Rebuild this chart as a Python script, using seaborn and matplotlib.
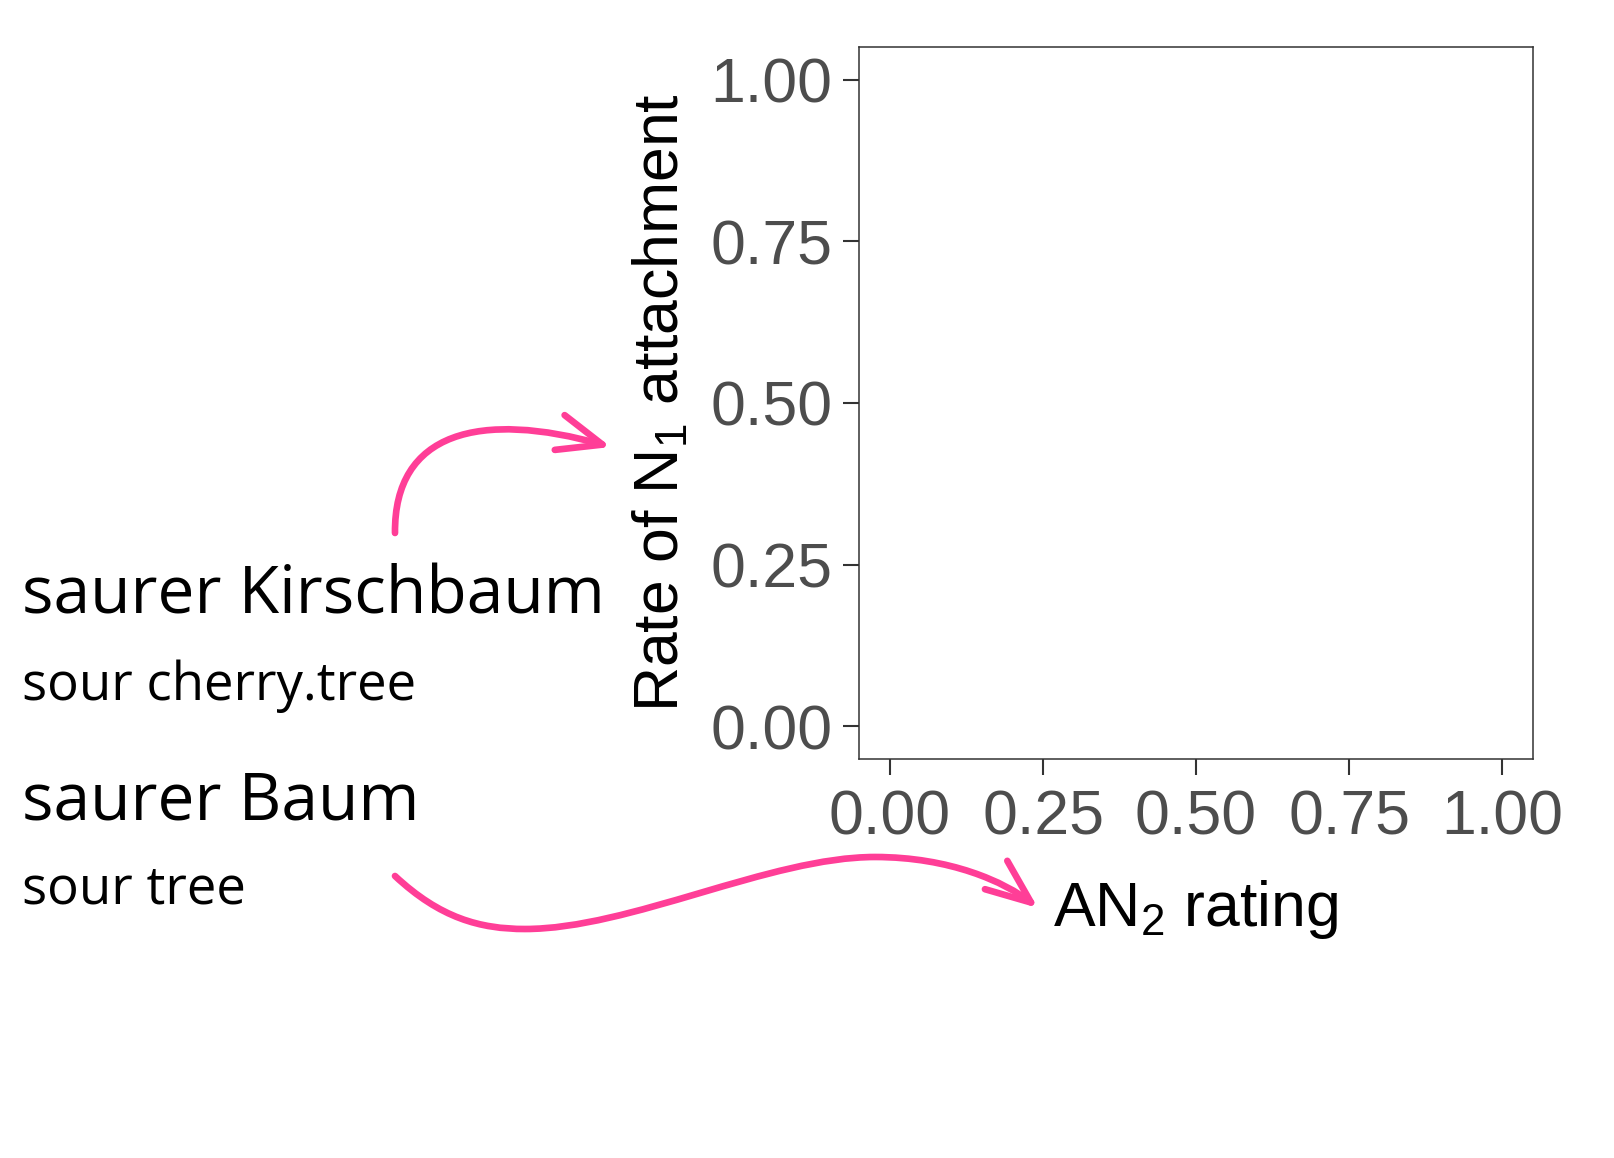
import numpy as np
import pandas as pd
import seaborn as sns
from matplotlib import pyplot as plt
from matplotlib.patches import FancyArrowPatch
from matplotlib.path import Path

# the panel is an empty template: no observations yet
an2_rating = []
n1_attachment = []
tick_values = [0.00, 0.25, 0.50, 0.75, 1.00]
tick_labels = ["0.00", "0.25", "0.50", "0.75", "1.00"]

example_lines = [
    ("saurer Kirschbaum", "big"),
    ("sour cherry.tree", "small"),
    ("saurer Baum", "big"),
    ("sour tree", "small"),
]

sns.set_style("white")
plt.rcParams["font.family"] = ["Liberation Sans", "DejaVu Sans"]
plt.rcParams["mathtext.fontset"] = "custom"
plt.rcParams["mathtext.rm"] = "Liberation Sans"
plt.rcParams["mathtext.it"] = "Liberation Sans"

W, H = 1614, 1158
fig = plt.figure(figsize=(W / 100, H / 100), dpi=100)
ax = fig.add_axes([0.5325, 0.3449, 0.4171, 0.6142])

df = pd.DataFrame({"rating": pd.Series(an2_rating, dtype=float),
                   "attachment": pd.Series(n1_attachment, dtype=float)})
sns.scatterplot(data=df, x="rating", y="attachment", ax=ax)

ax.set_xlim(-0.05, 1.05)
ax.set_ylim(-0.05, 1.05)
ax.set_xticks(tick_values)
ax.set_xticklabels(tick_labels)
ax.set_yticks(tick_values)
ax.set_yticklabels(tick_labels)
ax.tick_params(axis="both", labelsize=45, labelcolor="#4D4D4D", color="#333333",
               length=11.5, width=1.5, direction="out", bottom=True, left=True)
ax.tick_params(axis="y", pad=8)
ax.tick_params(axis="x", pad=10)
for sp in ax.spines.values():
    sp.set_color("#333333")
    sp.set_linewidth(1.1)

ax.set_xlabel("AN$_2$ rating", fontsize=45, color="black", labelpad=22)
ax.set_ylabel("Rate of N$_1$ attachment", fontsize=45, color="black", labelpad=14)


def fig_xy(px, py):
    return px / W, 1 - py / H


# glosses on the left
baselines = [614, 700, 819, 904]
for (txt, kind), base in zip(example_lines, baselines):
    fig.text(22 / W, 1 - base / H, txt, fontsize=47.5 if kind == "big" else 38,
             family=["Open Sans", "DejaVu Sans"], color="black", va="baseline", ha="left")

pink = "#FF3E97"
arrow_style = "->, head_length=32, head_width=13"

# arrow from "saurer Kirschbaum" to the y axis title
verts1 = [fig_xy(*p) for p in [(395, 533), (394, 432), (480, 410), (611, 447)]]
codes1 = [Path.MOVETO, Path.CURVE4, Path.CURVE4, Path.CURVE4]
a1 = FancyArrowPatch(path=Path(verts1, codes1), arrowstyle=arrow_style, mutation_scale=1,
                     color=pink, lw=4.8, capstyle="round", joinstyle="round",
                     transform=fig.transFigure)
fig.add_artist(a1)

# arrow from "saurer Baum" to the x axis title
pts2 = [(395, 876), (440, 918), (480, 929), (525, 929),
        (630, 929), (770, 857), (875, 857),
        (950, 857), (1005, 882), (1038, 908)]
verts2 = [fig_xy(*p) for p in pts2]
codes2 = [Path.MOVETO] + [Path.CURVE4] * 9
a2 = FancyArrowPatch(path=Path(verts2, codes2), arrowstyle=arrow_style, mutation_scale=1,
                     color=pink, lw=4.8, capstyle="round", joinstyle="round",
                     transform=fig.transFigure)
fig.add_artist(a2)

fig.savefig("out.png", dpi=100)
